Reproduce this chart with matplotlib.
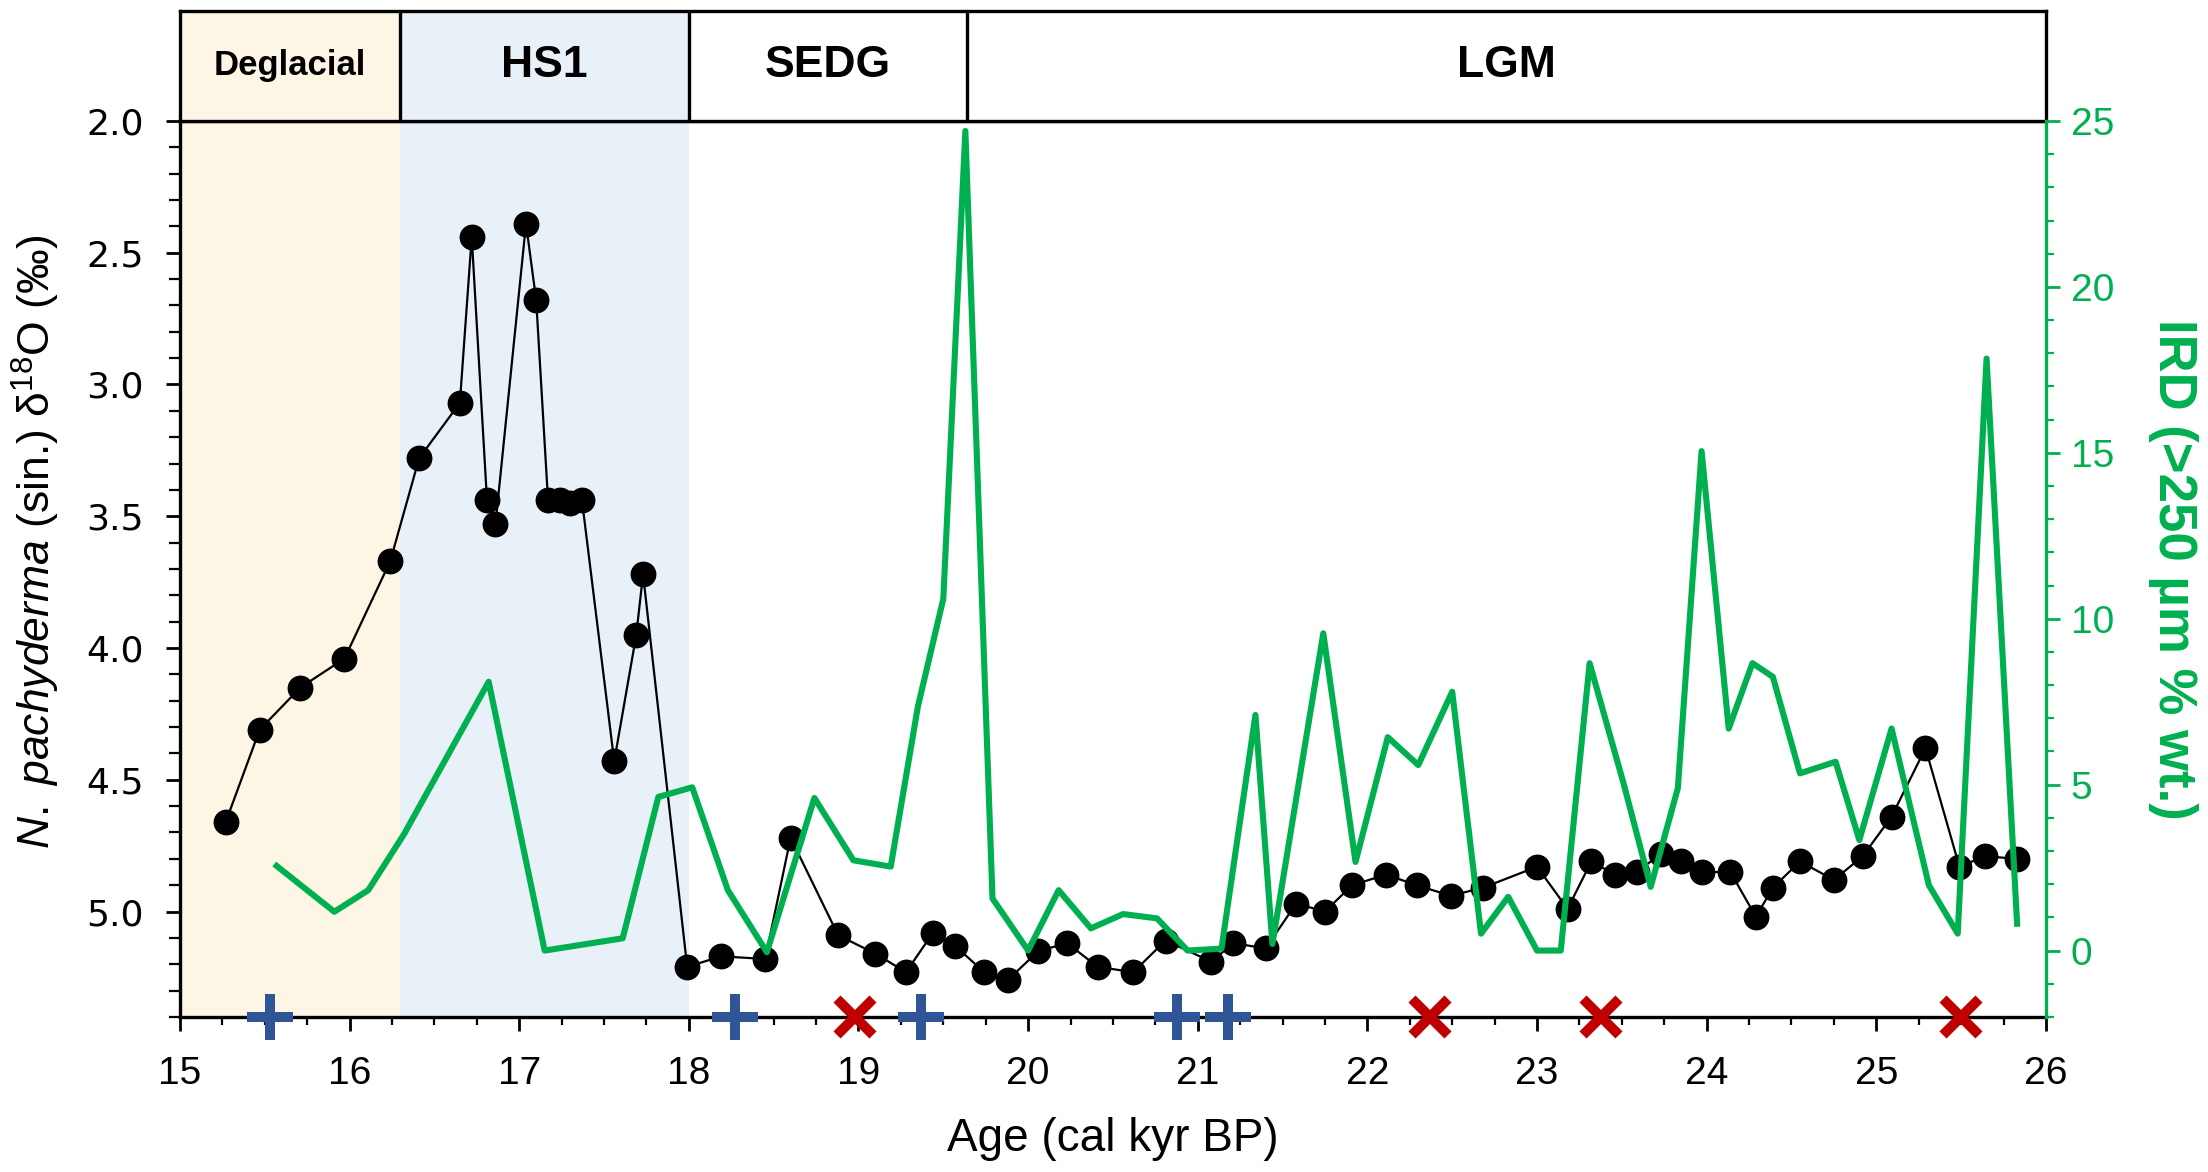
import numpy as np
import matplotlib
matplotlib.use("Agg")
import matplotlib.pyplot as plt
from matplotlib.ticker import MultipleLocator

plt.rcParams["font.family"] = ["Liberation Sans", "DejaVu Sans"]
plt.rcParams["mathtext.fontset"] = "custom"
plt.rcParams["mathtext.rm"] = "Liberation Sans"
plt.rcParams["mathtext.it"] = "Liberation Sans:italic"

# N. pachyderma d18O (left axis, inverted)
age_d18o = [15.27, 15.47, 15.71, 15.97, 16.24, 16.41, 16.65, 16.72, 16.81, 16.86,
            17.04, 17.10, 17.17, 17.24, 17.30, 17.37, 17.56, 17.69, 17.73, 17.99,
            18.19, 18.45, 18.60, 18.88, 19.10, 19.28, 19.44, 19.57, 19.74, 19.88,
            20.06, 20.23, 20.41, 20.62, 20.81, 21.08, 21.21, 21.40, 21.58, 21.75,
            21.91, 22.11, 22.29, 22.49, 22.68, 23.00, 23.18, 23.32, 23.46, 23.59,
            23.73, 23.85, 23.97, 24.14, 24.29, 24.39, 24.55, 24.75, 24.92, 25.09,
            25.29, 25.49, 25.64, 25.83]
d18o = [4.66, 4.31, 4.15, 4.04, 3.67, 3.28, 3.07, 2.44, 3.44, 3.53,
        2.39, 2.68, 3.44, 3.44, 3.45, 3.44, 4.43, 3.95, 3.72, 5.21,
        5.17, 5.18, 4.72, 5.09, 5.16, 5.23, 5.08, 5.13, 5.23, 5.26,
        5.15, 5.12, 5.21, 5.23, 5.11, 5.19, 5.12, 5.14, 4.97, 5.00,
        4.90, 4.86, 4.90, 4.94, 4.91, 4.83, 4.99, 4.81, 4.86, 4.85,
        4.78, 4.81, 4.85, 4.85, 5.02, 4.91, 4.81, 4.88, 4.79, 4.64,
        4.38, 4.83, 4.79, 4.80]

# IRD >250 um (right axis)
age_ird = [15.57, 15.91, 16.11, 16.32, 16.82, 17.15, 17.61, 17.82, 18.02, 18.23,
           18.46, 18.74, 18.97, 19.19, 19.35, 19.50, 19.63, 19.79, 20.00, 20.18,
           20.37, 20.56, 20.76, 20.94, 21.14, 21.34, 21.44, 21.74, 21.93, 22.12,
           22.30, 22.50, 22.67, 22.83, 23.00, 23.14, 23.31, 23.51, 23.67, 23.83,
           23.97, 24.13, 24.27, 24.39, 24.55, 24.76, 24.90, 25.09, 25.31, 25.48,
           25.65, 25.83]
ird = [2.55, 1.17, 1.82, 3.5, 8.1, 0.0, 0.37, 4.63, 4.92, 1.82,
       -0.05, 4.6, 2.72, 2.53, 7.35, 10.6, 24.7, 1.57, 0.0, 1.82,
       0.67, 1.1, 0.97, 0.0, 0.06, 7.1, 0.2, 9.56, 2.67, 6.43,
       5.59, 7.8, 0.51, 1.62, 0.0, 0.0, 8.66, 5.04, 1.92, 4.89,
       15.05, 6.69, 8.66, 8.25, 5.34, 5.69, 3.33, 6.69, 1.97, 0.51,
       17.84, 0.81]

# age markers along the bottom axis
age_plus = [15.53, 18.27, 19.37, 20.88, 21.18]
age_cross = [18.98, 22.37, 23.38, 25.50]

# climate intervals
period_names = ["Deglacial", "HS1", "SEDG", "LGM"]
period_edges = [15.0, 16.3, 18.0, 19.64, 26.0]
period_colors = ["#FDF6E4", "#E8F0F8", "white", "white"]

GREEN = "#00B050"

fig = plt.figure(figsize=(11.04, 5.86), dpi=200)
L, R, B, T = 0.0815, 0.9266, 0.1323, 0.8968
ax = fig.add_axes([L, B, R - L, T - B])
hdr = fig.add_axes([L, T, R - L, 0.9906 - T])

# shaded intervals
for i in range(2):
    ax.axvspan(period_edges[i], period_edges[i + 1], color=period_colors[i], lw=0, zorder=0)

ax.plot(age_d18o, d18o, color="black", lw=0.8, marker="o", ms=8.3, zorder=3)
ax.set_xlim(15, 26)
ax.set_ylim(5.4, 2.0)
ax.yaxis.set_major_locator(MultipleLocator(0.5))
ax.yaxis.set_minor_locator(MultipleLocator(0.1))
ax.xaxis.set_major_locator(MultipleLocator(1))
ax.xaxis.set_minor_locator(MultipleLocator(0.25))
ax.yaxis.set_major_formatter(matplotlib.ticker.FormatStrFormatter("%.1f"))
ax.tick_params(axis="x", which="major", length=5, width=1, labelsize=14, pad=9)
ax.tick_params(axis="x", which="minor", length=3, width=0.8)
ax.tick_params(axis="y", which="major", length=5, width=1, labelsize=13, pad=8)
ax.tick_params(axis="y", which="minor", length=4, width=0.8)
for lab in ax.get_yticklabels():
    lab.set_family("DejaVu Sans")
ax.spines["right"].set_visible(False)
for s in ["left", "bottom", "top"]:
    ax.spines[s].set_linewidth(1.2)
ax.set_xlabel("Age (cal kyr BP)", fontsize=16.5, labelpad=9)
ax.set_ylabel(r"$\it{N.\ pachyderma}$ (sin.) δ$^{18}$O (‰)", fontsize=16)
ax.yaxis.set_label_coords(-0.063, 0.53)

ax2 = ax.twinx()
ax2.plot(age_ird, ird, color=GREEN, lw=2.2, zorder=2)
ax2.set_ylim(-2, 25)
ax2.yaxis.set_major_locator(MultipleLocator(5))
ax2.yaxis.set_minor_locator(MultipleLocator(1))
ax2.tick_params(axis="y", which="major", colors=GREEN, length=5, width=1, labelsize=14, pad=4)
ax2.tick_params(axis="y", which="minor", colors=GREEN, length=3, width=0.8)
for s in ["left", "bottom", "top"]:
    ax2.spines[s].set_visible(False)
ax2.spines["right"].set_color(GREEN)
ax2.spines["right"].set_linewidth(1.2)
ax2.set_ylabel("IRD (>250 µm % wt.)", color=GREEN, fontsize=19, fontweight="bold",
               rotation=270, labelpad=30)

# markers on the bottom axis
ax.plot(age_plus, [5.4] * len(age_plus), ls="none", marker="+", ms=16.5, mew=3.6,
        color="#2F5597", clip_on=False, zorder=5)
ax.plot(age_cross, [5.4] * len(age_cross), ls="none", marker="x", ms=13, mew=3.6,
        color="#C00000", clip_on=False, zorder=5)

# header band
hdr.set_xlim(15, 26)
hdr.set_ylim(0, 1)
hdr.set_xticks([])
hdr.set_yticks([])
for s in hdr.spines.values():
    s.set_linewidth(1.2)
for i, name in enumerate(period_names):
    x0, x1 = period_edges[i], period_edges[i + 1]
    hdr.axvspan(x0, x1, color=period_colors[i], lw=0)
    if i > 0:
        hdr.axvline(x0, color="black", lw=1.2)
    fs = 12.5 if name == "Deglacial" else 16
    hdr.text((x0 + x1) / 2, 0.5, name, ha="center", va="center", fontsize=fs,
             fontweight="bold")

fig.savefig("out.png", dpi=200)
